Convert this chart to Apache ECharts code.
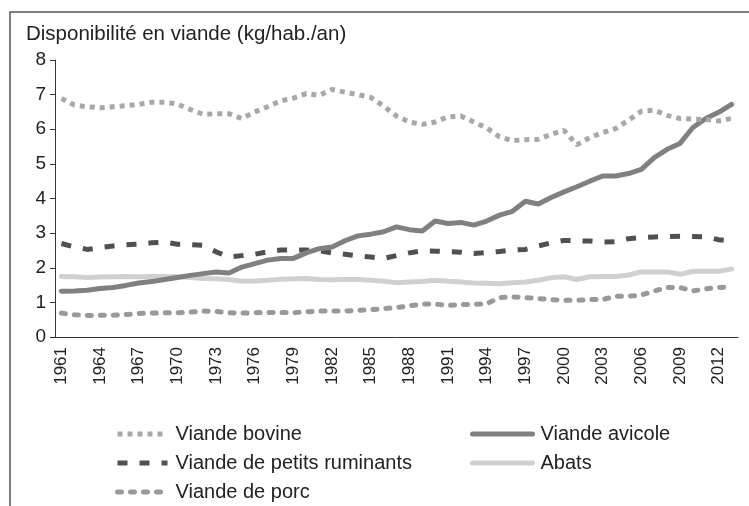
<!DOCTYPE html>
<html>
<head>
<meta charset="utf-8">
<script src="https://cdn.jsdelivr.net/npm/echarts@6/dist/echarts.min.js"></script>
<style>
html, body { margin: 0; padding: 0; background: #fff; }
#myChart { width: 749px; height: 506px; }
</style>
</head>
<body>
<div id="myChart"></div>
<script>
var years = [];
for (var y = 1961; y <= 2013; y++) { years.push(String(y)); }

var bovine = [6.89, 6.70, 6.65, 6.62, 6.65, 6.68, 6.72, 6.78, 6.78, 6.73,
  6.57, 6.43, 6.45, 6.45, 6.31, 6.50, 6.65, 6.82, 6.90, 7.03,
  6.98, 7.15, 7.07, 7.00, 6.92, 6.67, 6.38, 6.21, 6.14, 6.21,
  6.36, 6.38, 6.21, 6.04, 5.78, 5.67, 5.70, 5.71, 5.85, 5.97,
  5.55, 5.76, 5.90, 6.02, 6.26, 6.52, 6.55, 6.40, 6.31, 6.29,
  6.28, 6.24, 6.31];
var avicole = [1.32, 1.33, 1.35, 1.40, 1.43, 1.49, 1.56, 1.60, 1.66, 1.72,
  1.78, 1.83, 1.88, 1.85, 2.02, 2.12, 2.22, 2.27, 2.27, 2.43,
  2.55, 2.60, 2.78, 2.92, 2.97, 3.04, 3.18, 3.10, 3.06, 3.35,
  3.28, 3.31, 3.23, 3.35, 3.52, 3.63, 3.92, 3.84, 4.03, 4.19,
  4.34, 4.50, 4.65, 4.65, 4.72, 4.84, 5.18, 5.42, 5.59, 6.05,
  6.31, 6.49, 6.72];
var ruminants = [2.70, 2.60, 2.53, 2.58, 2.63, 2.66, 2.68, 2.72, 2.74, 2.68,
  2.67, 2.65, 2.46, 2.31, 2.35, 2.39, 2.46, 2.51, 2.51, 2.51,
  2.49, 2.43, 2.39, 2.34, 2.31, 2.27, 2.35, 2.43, 2.49, 2.48,
  2.47, 2.45, 2.41, 2.44, 2.47, 2.51, 2.53, 2.63, 2.72, 2.79,
  2.78, 2.77, 2.74, 2.75, 2.84, 2.87, 2.89, 2.90, 2.91, 2.90,
  2.89, 2.81, 2.77];
var abats = [1.75, 1.74, 1.72, 1.73, 1.74, 1.75, 1.74, 1.75, 1.75, 1.74,
  1.72, 1.69, 1.68, 1.66, 1.61, 1.62, 1.64, 1.67, 1.68, 1.69,
  1.66, 1.65, 1.66, 1.66, 1.64, 1.61, 1.57, 1.59, 1.60, 1.64,
  1.61, 1.59, 1.56, 1.55, 1.54, 1.57, 1.59, 1.64, 1.71, 1.74,
  1.66, 1.74, 1.75, 1.75, 1.79, 1.88, 1.88, 1.88, 1.81, 1.90,
  1.90, 1.90, 1.96];
var porc = [0.69, 0.64, 0.62, 0.63, 0.63, 0.65, 0.68, 0.69, 0.70, 0.70,
  0.72, 0.75, 0.74, 0.70, 0.69, 0.70, 0.71, 0.71, 0.70, 0.73,
  0.75, 0.75, 0.75, 0.77, 0.79, 0.82, 0.85, 0.90, 0.95, 0.95,
  0.91, 0.94, 0.94, 0.96, 1.14, 1.16, 1.14, 1.11, 1.08, 1.06,
  1.06, 1.08, 1.08, 1.18, 1.18, 1.21, 1.33, 1.43, 1.43, 1.33,
  1.39, 1.43, 1.45];

var fontName = 'Liberation Sans';
var myChart = echarts.init(document.getElementById('myChart'));

var line = function(name, data, color, type, cap) {
  return {
    name: name,
    type: 'line',
    data: data,
    symbol: 'none',
    smooth: false,
    lineStyle: { color: color, width: 5, type: type, cap: cap || 'butt' },
    itemStyle: { color: color }
  };
};

// legende sur deux colonnes
var legendBox = function(left, w, names) {
  return {
    orient: 'vertical',
    left: left,
    top: 424,
    padding: 0,
    itemWidth: w,
    itemHeight: 14,
    itemGap: 9,
    itemStyle: { opacity: 0 },
    lineStyle: { width: 5 },
    textStyle: { fontSize: 20, lineHeight: 20, color: '#222', fontFamily: fontName, padding: [0, 0, 0, 3] },
    data: names
  };
};

var option = {
  animation: false,
  backgroundColor: '#fff',
  textStyle: { fontFamily: fontName },
  graphic: [{
    type: 'rect',
    shape: { x: 10, y: 12, width: 900, height: 700 },
    style: { fill: 'none', stroke: '#555', lineWidth: 1.5 },
    silent: true
  }, {
    type: 'text',
    left: 26,
    top: 24,
    style: { text: 'Disponibilité en viande (kg/hab./an)', font: '20.5px "Liberation Sans"', fill: '#222' }
  }],
  grid: { left: 55, top: 60, right: 11, bottom: 169, containLabel: false },
  legend: [
    legendBox(115, 50, ['Viande bovine', 'Viande de petits ruminants', 'Viande de porc']),
    legendBox(470, 60, ['Viande avicole', 'Abats'])
  ],
  xAxis: {
    type: 'category',
    data: years,
    boundaryGap: true,
    axisLine: { lineStyle: { color: '#333', width: 1 } },
    axisTick: { interval: 0, length: 5, lineStyle: { color: '#333' } },
    axisLabel: { interval: 2, rotate: 90, margin: 10, fontSize: 17, color: '#222', fontFamily: fontName },
    splitLine: { show: false }
  },
  yAxis: {
    type: 'value',
    min: 0,
    max: 8,
    interval: 1,
    axisLine: { show: true, lineStyle: { color: '#333', width: 1 } },
    axisTick: { show: true, length: 5, lineStyle: { color: '#333' } },
    axisLabel: { margin: 9, fontSize: 19, color: '#222', fontFamily: fontName },
    splitLine: { show: false }
  },
  series: [
    line('Abats', abats, '#d0d0d0', 'solid', 'round'),
    line('Viande de porc', porc, '#999999', [4, 9], 'round'),
    line('Viande de petits ruminants', ruminants, '#505050', [10, 12], 'butt'),
    line('Viande avicole', avicole, '#808080', 'solid', 'round'),
    line('Viande bovine', bovine, '#a8a8a8', [5, 5], 'butt')
  ]
};
myChart.setOption(option);
</script>
</body>
</html>
